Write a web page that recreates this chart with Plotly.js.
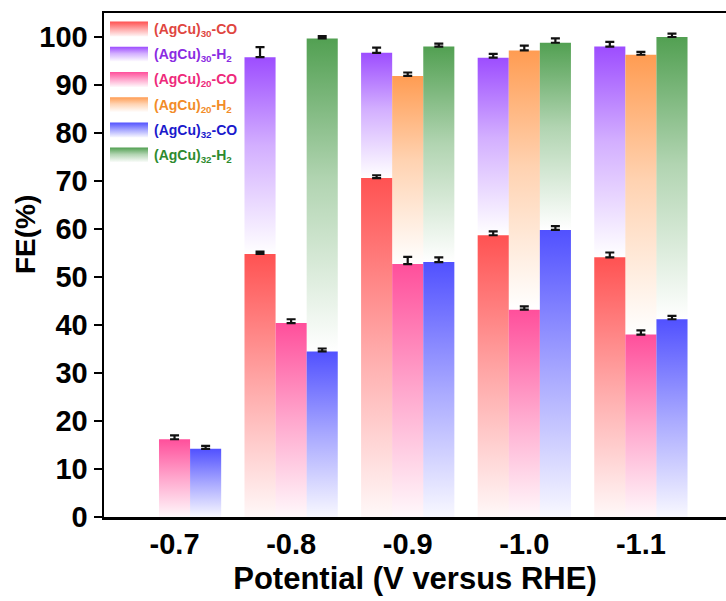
<!DOCTYPE html>
<html>
<head>
<meta charset="utf-8">
<script src="https://cdn.plot.ly/plotly-3.0.1.min.js"></script>
<style>
  html, body { margin: 0; padding: 0; background: #fff; }
  #plot { width: 726px; height: 601px; }
</style>
</head>
<body>
<div id="plot"></div>
<script>
// ---- data ----
const potentials = ['-0.7', '-0.8', '-0.9', '-1.0', '-1.1'];

const co30 = [null, 54.8, 70.6, 58.7, 54.1];
const co30Err = [null, 0.5, 0.6, 0.8, 1.0];
const h2_30 = [null, 41.0, 26.1, 37.0, 43.9];
const h2_30Err = [null, 2.1, 1.1, 0.8, 1.0];

const co20 = [16.2, 40.4, 52.7, 43.2, 38.0];
const co20Err = [0.8, 0.8, 1.5, 0.7, 0.9];
const h2_20 = [null, null, 39.2, 54.0, 58.3];
const h2_20Err = [null, null, 0.7, 1.0, 0.6];

const co32 = [14.2, 34.5, 53.1, 59.8, 41.2];
const co32Err = [0.6, 0.6, 1.0, 0.8, 0.7];
const h2_32 = [null, 65.2, 44.9, 39.0, 58.8];
const h2_32Err = [null, 0.5, 0.6, 0.9, 0.7];

const seriesNames = ['(AgCu)<sub>30</sub>-CO', '(AgCu)<sub>30</sub>-H<sub>2</sub>',
                     '(AgCu)<sub>20</sub>-CO', '(AgCu)<sub>20</sub>-H<sub>2</sub>',
                     '(AgCu)<sub>32</sub>-CO', '(AgCu)<sub>32</sub>-H<sub>2</sub>'];

// ---- styles ----
const barColors = ['#ff5252', '#9d4dff', '#ff4f9b', '#ff9c52', '#5151ff', '#52a052'];
const textColors = ['#e0463f', '#8a2be2', '#ee2a7b', '#f28c28', '#1a1acc', '#2e8b2e'];
const FONT = 'Liberation Sans, Arial, sans-serif';

function errSpec(arr) {
  return { type: 'data', symmetric: false, array: arr, arrayminus: arr.map(() => 0),
           color: '#111', thickness: 2.2, width: 4.5 };
}
function nameSpan(i) {
  return '<span style="color:' + textColors[i] + '">' + seriesNames[i] + '</span>';
}

// H2 traces first so CO error bars are drawn over them
const specs = [
  { idx: 1, y: h2_30, base: co30, err: h2_30Err, grp: 'a' },
  { idx: 3, y: h2_20, base: co20, err: h2_20Err, grp: 'b' },
  { idx: 5, y: h2_32, base: co32, err: h2_32Err, grp: 'c' },
  { idx: 0, y: co30, base: null, err: co30Err, grp: 'a' },
  { idx: 2, y: co20, base: null, err: co20Err, grp: 'b' },
  { idx: 4, y: co32, base: null, err: co32Err, grp: 'c' }
];

const traces = specs.map(s => {
  const t = {
    type: 'bar', x: potentials, y: s.y, name: nameSpan(s.idx),
    offsetgroup: s.grp, legendgroup: 'g' + s.idx, legendrank: s.idx + 1,
    marker: { color: barColors[s.idx], line: { width: 0 } },
    error_y: errSpec(s.err), hoverinfo: 'skip', meta: s.idx
  };
  if (s.base) t.base = s.base;
  return t;
});

const layout = {
  width: 726, height: 601,
  margin: { l: 104, r: 0, t: 13, b: 84 },
  paper_bgcolor: '#fff', plot_bgcolor: '#fff',
  barmode: 'group', bargap: 0.2, bargroupgap: 0,
  showlegend: true,
  legend: {
    x: 0, y: 1, xanchor: 'left', yanchor: 'top',
    bgcolor: 'rgba(0,0,0,0)', borderwidth: 0,
    font: { family: FONT, size: 14, weight: 'bold', color: '#000' },
    traceorder: 'grouped', tracegroupgap: 4, itemwidth: 40
  },
  xaxis: {
    type: 'category', range: [-0.605, 4.73],
    showline: true, linecolor: '#000', linewidth: 2.5, mirror: true,
    ticks: '', showgrid: false, zeroline: false,
    tickfont: { family: FONT, size: 29, weight: 'bold', color: '#000' },
    title: { text: 'Potential (V versus RHE)', standoff: 8,
             font: { family: FONT, size: 31, weight: 'bold', color: '#000' } }
  },
  yaxis: {
    range: [0, 105], tick0: 0, dtick: 10,
    showline: true, linecolor: '#000', linewidth: 2.5,
    ticks: 'outside', ticklen: 8, tickwidth: 2.5, tickcolor: '#000',
    showgrid: false, zeroline: false,
    tickfont: { family: FONT, size: 29, weight: 'bold', color: '#000' }
  },
  annotations: [{
    text: 'FE(%)', textangle: -90, xref: 'paper', yref: 'paper',
    x: -0.125, y: 0.56, xanchor: 'center', yanchor: 'middle', showarrow: false,
    font: { family: FONT, size: 28, weight: 'bold', color: '#000' }
  }]
};

function addGradients(gd) {
  const svgNS = 'http://www.w3.org/2000/svg';
  const defs = gd.querySelector('.main-svg defs');
  barColors.forEach((c, i) => {
    const isH2 = (i % 2 === 1);
    const lg = document.createElementNS(svgNS, 'linearGradient');
    lg.setAttribute('id', 'fegrad' + i);
    lg.setAttribute('x1', '0'); lg.setAttribute('y1', '0');
    lg.setAttribute('x2', '0'); lg.setAttribute('y2', '1');
    const stops = isH2
      ? [[0, 1], [0.45, 0.45], [1, 0.0]]
      : [[0, 1], [0.5, 0.5], [1, 0.04]];
    stops.forEach(([o, op]) => {
      const st = document.createElementNS(svgNS, 'stop');
      st.setAttribute('offset', o);
      st.setAttribute('stop-color', c);
      st.setAttribute('stop-opacity', op);
      lg.appendChild(st);
    });
    defs.appendChild(lg);
  });
  // bars
  gd.querySelectorAll('.barlayer .trace').forEach(g => {
    const cd = g.__data__;
    if (!cd || !cd[0]) return;
    const idx = cd[0].trace.meta;
    g.querySelectorAll('.point path').forEach(p => {
      p.style.fill = 'url(#fegrad' + idx + ')';
      p.style.fillOpacity = 1;
    });
  });
  // legend swatches
  gd.querySelectorAll('.legend .traces').forEach(g => {
    const d = g.__data__;
    if (!d || !d[0]) return;
    const idx = d[0].trace.meta;
    g.querySelectorAll('.legendpoints path').forEach(p => {
      p.setAttribute('d', 'M-19,8H19V-7H-19Z');
      p.style.fill = 'url(#fegrad' + idx + ')';
      p.style.stroke = 'none';
    });
  });
}

Plotly.newPlot('plot', traces, layout, { staticPlot: true, displayModeBar: false })
  .then(addGradients);
</script>
</body>
</html>
